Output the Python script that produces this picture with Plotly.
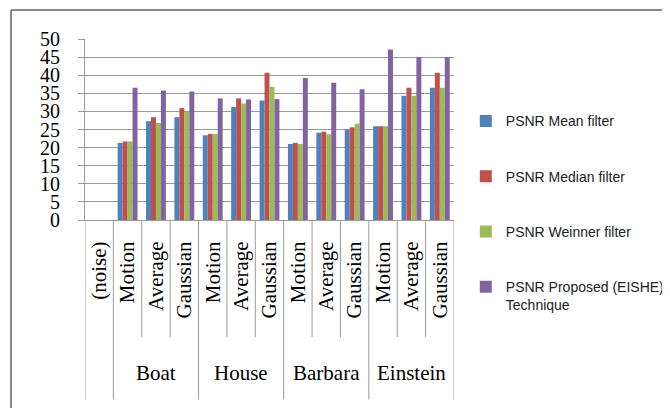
import plotly.graph_objects as go

# ---- data ----
groups = ["", "Boat", "House", "Barbara", "Einstein"]
group_sizes = [1, 3, 3, 3, 3]
noise_labels = ["(noise)", "Motion", "Average", "Gaussian",
                "Motion", "Average", "Gaussian",
                "Motion", "Average", "Gaussian",
                "Motion", "Average", "Gaussian"]

mean_filter = [None, 21.3, 27.3, 28.4, 23.4, 31.2, 33.0, 21.0, 24.1, 25.0, 25.9, 34.3, 36.5]
median_filter = [None, 21.7, 28.4, 30.9, 23.8, 33.6, 40.7, 21.3, 24.4, 25.6, 25.9, 36.5, 40.7]
weinner_filter = [None, 21.7, 26.8, 29.9, 23.8, 32.2, 36.8, 21.0, 23.7, 26.6, 25.9, 34.3, 36.5]
proposed = [None, 36.5, 35.8, 35.5, 33.6, 33.3, 33.4, 39.2, 37.9, 36.1, 47.1, 45.0, 45.0]

series_names = ["PSNR Mean filter", "PSNR Median filter", "PSNR Weinner filter",
                "PSNR Proposed (EISHE)<br>Technique"]
series_values = [mean_filter, median_filter, weinner_filter, proposed]
colors = ["#4F81BD", "#C0504D", "#9BBB59", "#8064A2"]

y_ticks = [0, 5, 10, 15, 20, 25, 30, 35, 40, 45, 50]

# ---- figure ----
xs = list(range(len(noise_labels)))
fig = go.Figure()
for i, (name, vals, col) in enumerate(zip(series_names, series_values, colors)):
    fig.add_trace(go.Bar(x=xs, y=vals, name=name, marker_color=col,
                         marker_line_width=0, legendgroup=str(i)))

# the page body adds an 8px margin, so the figure is sized to fit inside the window
PW, PH = 369, 181.4  # plot area size in px
grid_col = "#9a9a9a"
fig.update_layout(
    width=662, height=400,
    margin=dict(l=77, r=216, t=31, b=187.6, autoexpand=False),
    paper_bgcolor="white", plot_bgcolor="white",
    barmode="group", bargap=0.3, bargroupgap=0,
    showlegend=True,
    legend=dict(x=1.032, xanchor="left", y=0.633, yanchor="top",
                font=dict(family="Liberation Sans", size=14, color="#222"),
                tracegroupgap=34, valign="top", itemwidth=30, maxheight=320,
                bgcolor="rgba(0,0,0,0)"),
    font=dict(family="Liberation Serif", color="black"),
)
fig.update_yaxes(range=[0, 50], tickvals=y_ticks, ticktext=[str(v) for v in y_ticks],
                 showgrid=True, gridcolor=grid_col, gridwidth=1,
                 showline=True, linecolor=grid_col, linewidth=1,
                 ticks="outside", ticklen=6, tickcolor=grid_col,
                 ticklabelstandoff=14, automargin=False,
                 tickfont=dict(family="Liberation Serif", size=20, color="black"),
                 zeroline=False)
fig.update_xaxes(range=[-0.5, len(xs) - 0.5], tickvals=xs, ticktext=noise_labels,
                 tickangle=-90, showgrid=False, showline=True, linecolor=grid_col,
                 linewidth=1, ticks="", ticklabelstandoff=12, automargin=False,
                 tickfont=dict(family="Liberation Serif", size=21, color="black"),
                 zeroline=False)

# category dividers (inner) and group dividers (outer)
bounds = [0]
for s in group_sizes:
    bounds.append(bounds[-1] + s)
outer = set(bounds)
for b in range(len(xs) + 1):
    x = b - 0.5
    y1 = -0.992 if b in outer else -0.647
    fig.add_shape(type="line", xref="x", yref="paper", x0=x, x1=x, y0=0, y1=y1,
                  line=dict(color=grid_col, width=1))

# group labels
start = 0
for g, s in zip(groups, group_sizes):
    if g:
        fig.add_annotation(x=start + (s - 1) / 2, y=-0.845, xref="x", yref="paper",
                           text=g, showarrow=False, yanchor="middle",
                           font=dict(family="Liberation Serif", size=21, color="black"))
    start += s

# chart-area border (top and left)
top = 1 + 29 / PH
left = -74 / PW
fig.add_shape(type="line", xref="paper", yref="paper",
              x0=left, x1=1 + 216 / PW, y0=top, y1=top,
              line=dict(color="#888", width=2))
fig.add_shape(type="line", xref="paper", yref="paper",
              x0=left, x1=left, y0=top, y1=-1.1,
              line=dict(color="#888", width=2))

fig.write_html("out.html")
